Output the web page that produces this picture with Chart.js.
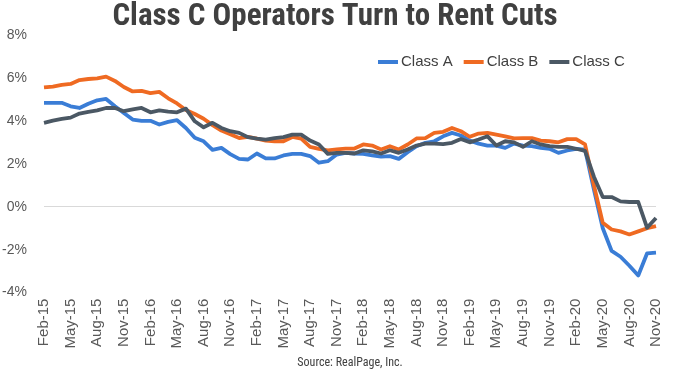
<!DOCTYPE html>
<html>
<head>
<meta charset="utf-8">
<script src="https://cdn.jsdelivr.net/npm/chart.js@4"></script>
<style>
  html, body { margin: 0; padding: 0; background: #fff; }
  #wrap { width: 680px; height: 372px; }
</style>
</head>
<body>
<div id="wrap"><canvas id="chart" width="680" height="372"></canvas></div>
<script>
const months = [
  "Feb-15","Mar-15","Apr-15","May-15","Jun-15","Jul-15","Aug-15","Sep-15","Oct-15","Nov-15","Dec-15",
  "Jan-16","Feb-16","Mar-16","Apr-16","May-16","Jun-16","Jul-16","Aug-16","Sep-16","Oct-16","Nov-16","Dec-16",
  "Jan-17","Feb-17","Mar-17","Apr-17","May-17","Jun-17","Jul-17","Aug-17","Sep-17","Oct-17","Nov-17","Dec-17",
  "Jan-18","Feb-18","Mar-18","Apr-18","May-18","Jun-18","Jul-18","Aug-18","Sep-18","Oct-18","Nov-18","Dec-18",
  "Jan-19","Feb-19","Mar-19","Apr-19","May-19","Jun-19","Jul-19","Aug-19","Sep-19","Oct-19","Nov-19","Dec-19",
  "Jan-20","Feb-20","Mar-20","Apr-20","May-20","Jun-20","Jul-20","Aug-20","Sep-20","Oct-20","Nov-20"
];

const classA = [
  4.84, 4.84, 4.84, 4.68, 4.60, 4.80, 4.96, 5.02, 4.68, 4.37, 4.06,
  4.00, 4.00, 3.83, 3.95, 4.03, 3.67, 3.21, 3.05, 2.65, 2.74, 2.45, 2.23,
  2.20, 2.48, 2.25, 2.25, 2.39, 2.46, 2.46, 2.36, 2.05, 2.12, 2.43, 2.51,
  2.48, 2.46, 2.39, 2.33, 2.36, 2.23, 2.54, 2.82, 2.98, 3.05, 3.28, 3.44,
  3.32, 3.08, 2.94, 2.85, 2.85, 2.74, 2.94, 2.85, 2.82, 2.74, 2.70, 2.51,
  2.62, 2.70, 2.66, 0.80, -1.00, -2.06, -2.33, -2.75, -3.20, -2.17, -2.14
];

const classB = [
  5.56, 5.60, 5.68, 5.72, 5.90, 5.95, 5.98, 6.06, 5.86, 5.58, 5.37,
  5.40, 5.29, 5.35, 5.05, 4.81, 4.51, 4.32, 4.10, 3.80, 3.55, 3.38, 3.20,
  3.25, 3.17, 3.08, 3.05, 3.05, 3.25, 3.17, 2.79, 2.70, 2.63, 2.67, 2.71,
  2.71, 2.90, 2.85, 2.67, 2.82, 2.67, 2.90, 3.18, 3.20, 3.44, 3.49, 3.67,
  3.52, 3.26, 3.41, 3.44, 3.36, 3.28, 3.18, 3.20, 3.20, 3.08, 3.05, 3.00,
  3.15, 3.15, 2.90, 1.00, -0.75, -1.06, -1.15, -1.29, -1.15, -1.00, -0.90
];

const classC = [
  3.91, 4.01, 4.09, 4.15, 4.34, 4.42, 4.49, 4.60, 4.60, 4.45, 4.53,
  4.60, 4.40, 4.49, 4.43, 4.40, 4.57, 3.98, 3.70, 3.91, 3.67, 3.52, 3.44,
  3.24, 3.17, 3.13, 3.20, 3.24, 3.36, 3.36, 3.08, 2.90, 2.46, 2.51, 2.51,
  2.48, 2.63, 2.58, 2.48, 2.63, 2.51, 2.67, 2.85, 2.94, 2.94, 2.92, 2.98,
  3.16, 3.00, 3.13, 3.28, 2.85, 3.05, 3.00, 2.79, 3.05, 2.90, 2.82, 2.79,
  2.79, 2.70, 2.60, 1.40, 0.45, 0.45, 0.25, 0.22, 0.22, -0.98, -0.52
];

const yTicks = [-4, -2, 0, 2, 4, 6, 8];

const narrow = "'Roboto Condensed', 'Liberation Sans Narrow', 'DejaVu Sans Condensed', Roboto, sans-serif";
const plain = "'Liberation Sans', Arial, sans-serif";

// legend sits inside the plot, top right, in one row
const innerLegend = {
  id: 'innerLegend',
  afterDraw(chart) {
    const c = chart.ctx;
    let x = 378;
    const y = 62;
    c.save();
    c.font = '15px ' + plain;
    c.textBaseline = 'middle';
    chart.data.datasets.forEach((ds) => {
      c.strokeStyle = ds.borderColor;
      c.lineWidth = 4;
      c.beginPath();
      c.moveTo(x, y);
      c.lineTo(x + 20, y);
      c.stroke();
      c.fillStyle = '#404040';
      c.fillText(ds.label, x + 23, y);
      x += 23 + c.measureText(ds.label).width + 11;
    });
    c.restore();
  }
};

const ctx = document.getElementById('chart');

new Chart(ctx, {
  type: 'line',
  data: {
    labels: months,
    datasets: [
      { label: 'Class A', data: classA, borderColor: '#3a7dd6', backgroundColor: '#3a7dd6', order: 3 },
      { label: 'Class B', data: classB, borderColor: '#ef6a22', backgroundColor: '#ef6a22', order: 2 },
      { label: 'Class C', data: classC, borderColor: '#4b5864', backgroundColor: '#4b5864', order: 1 }
    ]
  },
  options: {
    responsive: false,
    animation: false,
    devicePixelRatio: 1,
    layout: { padding: { left: 0, right: 10, top: 0, bottom: 0 } },
    elements: {
      line: { borderWidth: 3.8, tension: 0, borderJoinStyle: 'round', borderCapStyle: 'butt' },
      point: { radius: 0 }
    },
    plugins: {
      title: {
        display: true,
        text: 'Class C Operators Turn to Rent Cuts',
        color: '#404040',
        font: { family: narrow, size: 31, weight: 'bold', lineHeight: 1.0 },
        padding: { top: 2, bottom: 2 }
      },
      subtitle: {
        display: true,
        position: 'bottom',
        fullSize: false,
        text: 'Source: RealPage, Inc.',
        color: '#404040',
        font: { family: narrow, size: 12, lineHeight: 1.2 },
        padding: { top: 3, bottom: 2 }
      },
      legend: { display: false },
      tooltip: { enabled: false }
    },
    scales: {
      x: {
        grid: { display: false, drawTicks: false },
        border: { display: false },
        ticks: {
          autoSkip: false,
          maxRotation: 90,
          minRotation: 90,
          padding: 6,
          color: '#595959',
          font: { family: plain, size: 15 },
          callback: function (v, i) { return i % 3 === 0 ? months[i] : null; }
        },
        afterFit: (s) => { s.height = 60; }
      },
      y: {
        min: -4,
        max: 8,
        afterBuildTicks: (s) => { s.ticks = yTicks.map(v => ({ value: v })); },
        grid: {
          drawTicks: false,
          color: (c) => (c.tick && c.tick.value === 0) ? '#d9d9d9' : 'rgba(0,0,0,0)',
          lineWidth: 1
        },
        border: { display: false },
        ticks: {
          padding: 17,
          color: '#595959',
          font: { family: plain, size: 14 },
          callback: (v) => v + '%'
        },
        afterFit: (s) => { s.width = 44; }
      }
    }
  },
  plugins: [innerLegend]
});
</script>
</body>
</html>
